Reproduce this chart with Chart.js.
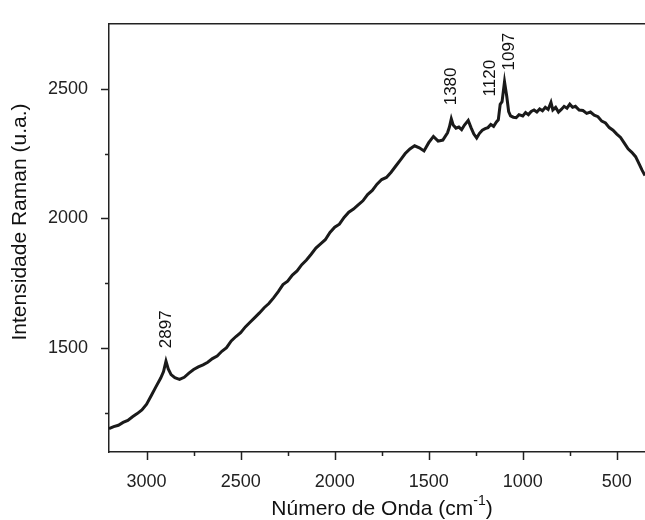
<!DOCTYPE html>
<html>
<head>
<meta charset="utf-8">
<script src="https://cdn.jsdelivr.net/npm/chart.js@4"></script>
<style>
  html, body { margin: 0; padding: 0; background: #fff; }
  #wrap { width: 645px; height: 520px; }
</style>
</head>
<body>
<div id="wrap"><canvas id="raman-chart"></canvas></div>
<script>
// Raman spectrum data
const wavenumbers = [
  3200, 3175, 3150, 3125, 3100, 3075, 3050, 3025, 3000, 2975,
  2950, 2925, 2910, 2897, 2885, 2870, 2850, 2825, 2800, 2775,
  2750, 2725, 2700, 2675, 2650, 2625, 2600, 2575, 2550, 2525,
  2500, 2475, 2450, 2425, 2400, 2375, 2350, 2325, 2300, 2275,
  2250, 2225, 2200, 2175, 2150, 2125, 2100, 2075, 2050, 2025,
  2000, 1975, 1950, 1925, 1900, 1875, 1850, 1825, 1800, 1775,
  1750, 1725, 1700, 1675, 1650, 1625, 1600, 1575, 1550, 1525,
  1500, 1475, 1450, 1425, 1400, 1390, 1380, 1370, 1355, 1340,
  1325, 1310, 1290, 1275, 1260, 1245, 1230, 1215, 1200, 1185,
  1170, 1155, 1140, 1130, 1120, 1110, 1097, 1085, 1075, 1065,
  1050, 1035, 1020, 1000, 985, 970, 955, 940, 925, 910,
  895, 880, 865, 850, 840, 825, 810, 795, 780, 765,
  750, 735, 720, 700, 680, 660, 640, 620, 600, 580,
  560, 540, 520, 500, 480, 460, 440, 420, 400, 380,
  365, 350
];
const intensity = [
  1190, 1198, 1203, 1214, 1222, 1236, 1248, 1262, 1284, 1318,
  1352, 1385, 1410, 1450, 1420, 1398, 1386, 1380, 1388, 1404,
  1418, 1428, 1436, 1446, 1460, 1470, 1488, 1502, 1528, 1545,
  1560, 1582, 1600, 1618, 1636, 1656, 1672, 1694, 1718, 1745,
  1758, 1782, 1798, 1822, 1840, 1862, 1886, 1902, 1918, 1946,
  1966, 1978, 2004, 2024, 2036, 2052, 2068, 2092, 2108, 2132,
  2150, 2158, 2178, 2202, 2226, 2250, 2268, 2280, 2272, 2260,
  2292, 2316, 2298, 2302, 2330, 2352, 2384, 2360, 2348, 2352,
  2342, 2360, 2378, 2350, 2325, 2310, 2328, 2340, 2346, 2350,
  2362, 2355, 2372, 2380, 2440, 2450, 2527, 2470, 2412, 2395,
  2390, 2388, 2400, 2395, 2408, 2400, 2412, 2418, 2410, 2422,
  2415, 2428, 2420, 2447, 2418, 2428, 2410, 2420, 2432, 2425,
  2440, 2428, 2432, 2418, 2416, 2405, 2410, 2398, 2392, 2375,
  2368, 2350, 2340, 2325, 2312, 2290, 2268, 2255, 2238, 2208,
  2185, 2165
];

// Tick labels
const xTicks = [3000, 2500, 2000, 1500, 1000, 500];
const yTicks = [1500, 2000, 2500];

// Peak labels and where their text starts (data units)
const peakLabels = ['2897', '1380', '1120', '1097'];
const peakLabelX = [2894, 1378, 1175, 1074];
const peakLabelY = [1500, 2436, 2470, 2570];

const axisColor = '#222';
const lineColor = '#1a1a1a';
const fontFamily = '"Liberation Sans", Arial, sans-serif';

// Draws outward ticks (major + minor), top frame line, peak labels and axis titles
const ramanDecor = {
  id: 'ramanDecor',
  afterDraw(chart) {
    const { ctx, chartArea } = chart;
    const xs = chart.scales.x;
    const ys = chart.scales.y;
    ctx.save();
    ctx.strokeStyle = axisColor;
    ctx.lineWidth = 1.5;

    // top frame
    ctx.beginPath();
    ctx.moveTo(chartArea.left, chartArea.top);
    ctx.lineTo(chartArea.right, chartArea.top);
    ctx.stroke();

    // x ticks every 250
    for (let v = 500; v <= 3000; v += 250) {
      const px = Math.round(xs.getPixelForValue(v)) + 0.5;
      const len = v % 500 === 0 ? 8 : 4;
      ctx.beginPath();
      ctx.moveTo(px, chartArea.bottom);
      ctx.lineTo(px, chartArea.bottom + len);
      ctx.stroke();
    }
    // y ticks every 250
    for (let v = 1250; v <= 2500; v += 250) {
      const py = Math.round(ys.getPixelForValue(v)) + 0.5;
      const len = v % 500 === 0 ? 8 : 4;
      ctx.beginPath();
      ctx.moveTo(chartArea.left, py);
      ctx.lineTo(chartArea.left - len, py);
      ctx.stroke();
    }

    // peak labels, rotated
    ctx.fillStyle = '#111';
    ctx.font = '17px ' + fontFamily;
    ctx.textAlign = 'left';
    ctx.textBaseline = 'middle';
    peakLabels.forEach((txt, i) => {
      const px = xs.getPixelForValue(peakLabelX[i]);
      const py = ys.getPixelForValue(peakLabelY[i]);
      ctx.save();
      ctx.translate(px, py);
      ctx.rotate(-Math.PI / 2);
      ctx.fillText(txt, 0, 0);
      ctx.restore();
    });

    // y axis title
    ctx.font = '21px ' + fontFamily;
    ctx.textAlign = 'center';
    ctx.save();
    ctx.translate(20, 222);
    ctx.rotate(-Math.PI / 2);
    ctx.fillText('Intensidade Raman (u.a.)', 0, 0);
    ctx.restore();

    // x axis title with superscript
    const main = 'Número de Onda (cm';
    const sup = '-1';
    const close = ')';
    ctx.font = '21px ' + fontFamily;
    const wMain = ctx.measureText(main).width;
    const wClose = ctx.measureText(close).width;
    ctx.font = '14px ' + fontFamily;
    const wSup = ctx.measureText(sup).width;
    const total = wMain + wSup + wClose;
    const x0 = 382 - total / 2;
    const yBase = 509;
    ctx.textAlign = 'left';
    ctx.font = '21px ' + fontFamily;
    ctx.fillText(main, x0, yBase);
    ctx.font = '14px ' + fontFamily;
    ctx.fillText(sup, x0 + wMain, yBase - 8);
    ctx.font = '21px ' + fontFamily;
    ctx.fillText(close, x0 + wMain + wSup, yBase);

    ctx.restore();
  }
};

const ramanChart = new Chart(document.getElementById('raman-chart'), {
  type: 'line',
  data: {
    datasets: [{
      label: 'Raman',
      data: wavenumbers.map((w, i) => ({ x: w, y: intensity[i] })),
      borderColor: lineColor,
      borderWidth: 3,
      pointRadius: 0,
      tension: 0,
      fill: false
    }]
  },
  options: {
    responsive: true,
    maintainAspectRatio: false,
    animation: false,
    layout: {
      padding: { top: 15, right: 0, left: 0, bottom: 0 }
    },
    plugins: {
      legend: { display: false },
      tooltip: { enabled: false }
    },
    scales: {
      x: {
        type: 'linear',
        reverse: true,
        min: 350,
        max: 3200,
        afterBuildTicks: (scale) => {
          scale.ticks = xTicks.map(v => ({ value: v }));
        },
        afterFit: (scale) => { scale.height = 68; },
        grid: { display: false },
        border: { display: true, color: axisColor, width: 1.5 },
        ticks: {
          color: '#222',
          padding: 11,
          maxRotation: 0,
          autoSkip: false,
          callback: (v) => String(v),
          font: { family: fontFamily, size: 18 }
        }
      },
      y: {
        min: 1100,
        max: 2750,
        afterBuildTicks: (scale) => {
          scale.ticks = yTicks.map(v => ({ value: v }));
        },
        afterFit: (scale) => { scale.width = 109; },
        grid: { display: false },
        border: { display: true, color: axisColor, width: 1.5 },
        ticks: {
          color: '#222',
          padding: 13,
          callback: (v) => String(v),
          font: { family: fontFamily, size: 18 }
        }
      }
    }
  },
  plugins: [ramanDecor]
});
</script>
</body>
</html>
